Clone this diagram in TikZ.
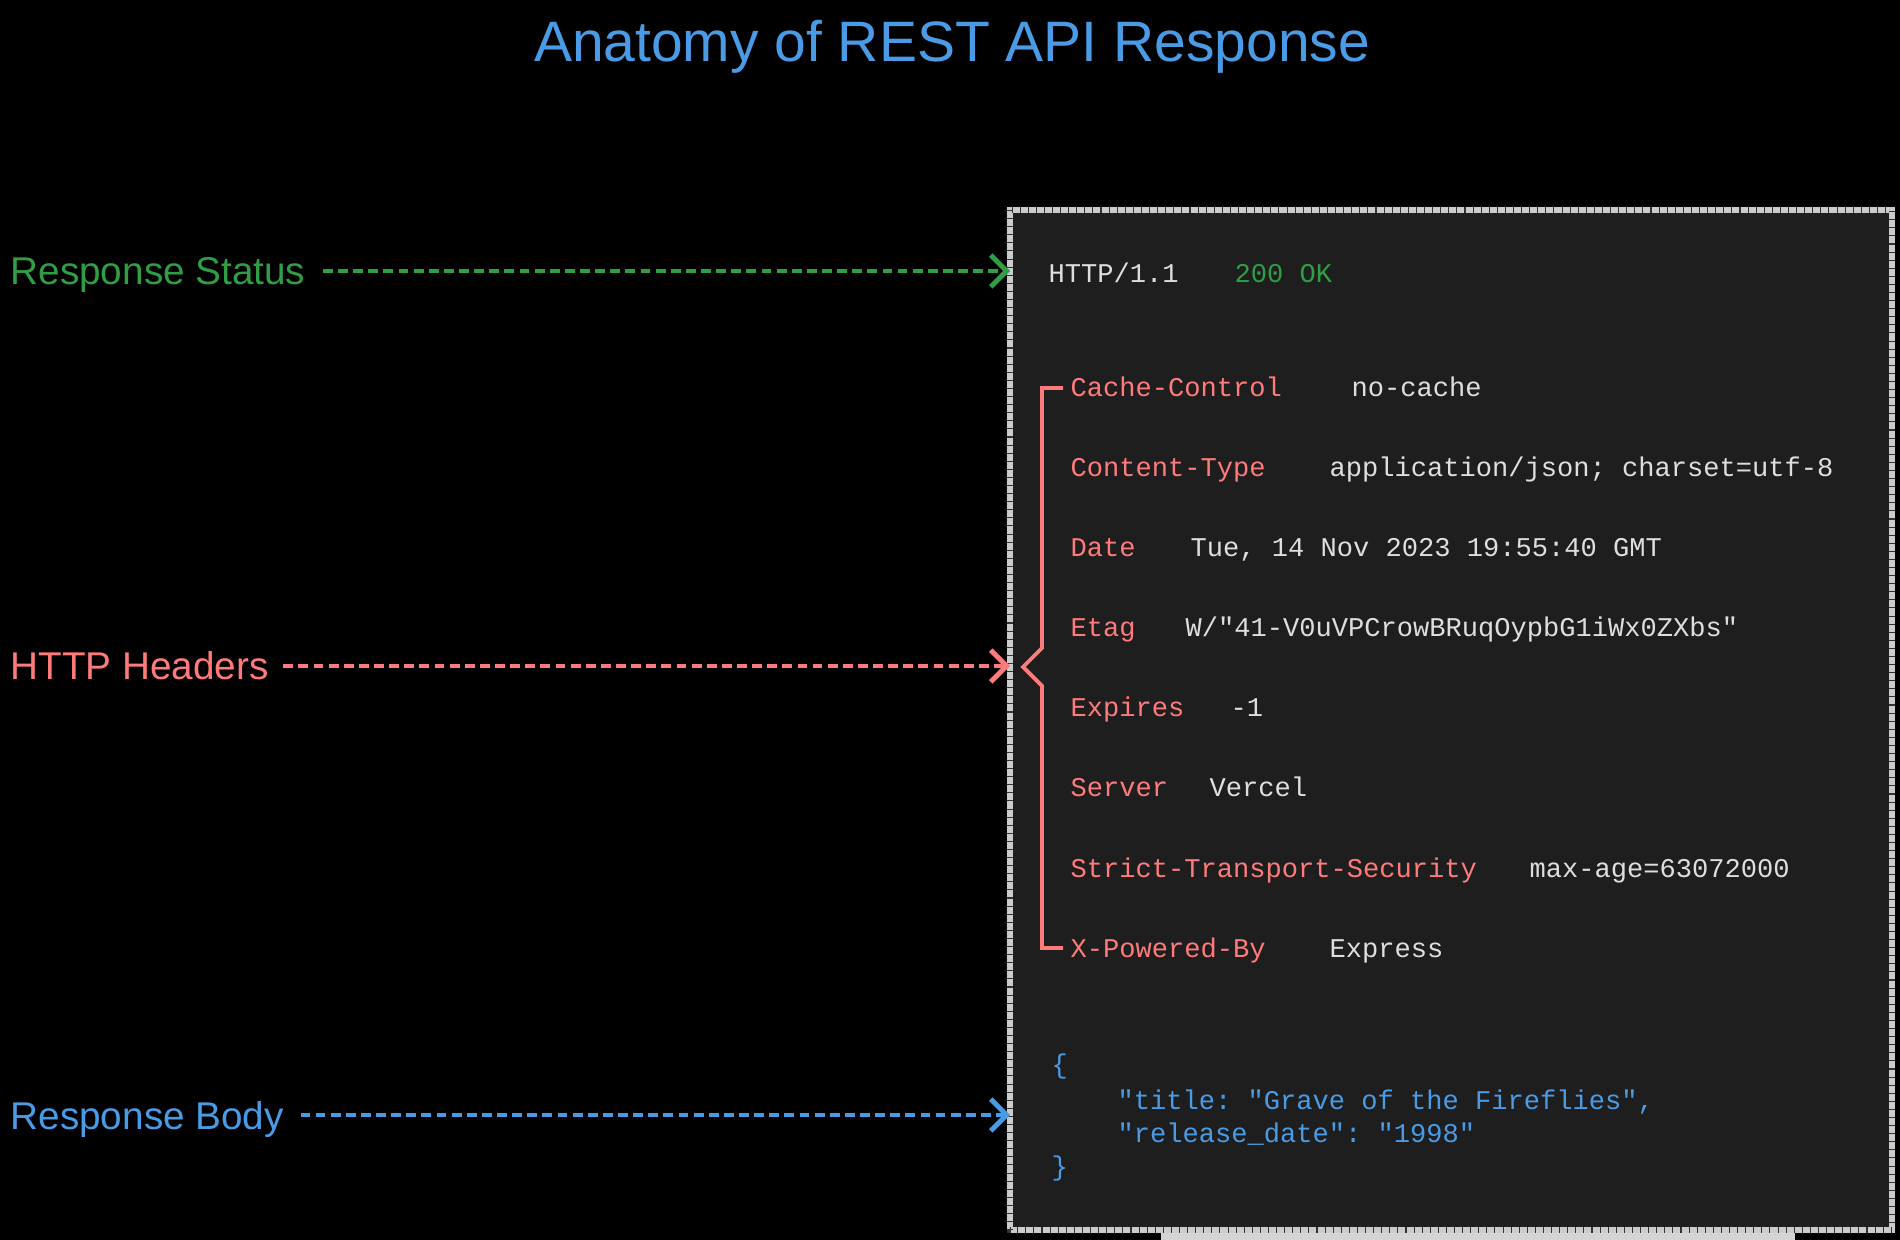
\documentclass[tikz,border=0pt]{standalone}
\usepackage{fontspec}
\setmainfont{Liberation Sans}
\setmonofont{Liberation Mono}
\usetikzlibrary{arrows.meta, positioning, calc}

\definecolor{apiblue}{HTML}{4A9BE6}
\definecolor{apigreen}{HTML}{2F9E44}
\definecolor{apired}{HTML}{FF7B7B}
\definecolor{codegray}{HTML}{DEDEDE}
\definecolor{panelfill}{HTML}{1E1E1E}
\definecolor{paneledge}{HTML}{CCCCCC}

\tikzset{
    pointer/.style={line width=1.1pt, dash pattern=on 2.8pt off 1.5pt,
        -{Straight Barb[length=4.5pt, width=9pt, line width=1.4pt]}},
    sidelabel/.style={anchor=base west, inner sep=0pt, font=\fontsize{11}{13}\selectfont},
    hkey/.style={anchor=base west, inner sep=0pt, text=apired, font=\ttfamily\fontsize{7.7}{9}\selectfont},
    hval/.style={anchor=base west, inner sep=0pt, text=codegray, font=\ttfamily\fontsize{7.7}{9}\selectfont},
    jsonline/.style={anchor=base west, inner sep=0pt, text=apiblue, font=\ttfamily\fontsize{7.7}{9}\selectfont},
}

\begin{document}
\begin{tikzpicture}[x=0.01cm, y=-0.01cm]
    % Canvas
    \useasboundingbox (0,0) rectangle (1900,1240);
    \fill[black] (0,0) rectangle (1900,1240);

    % Title
    \node[anchor=base, inner sep=0pt, text=apiblue, font=\fontsize{16.2}{19}\selectfont] (title) at (952,62) {Anatomy of REST API Response};

    % Response panel
    \fill[paneledge!85] (1161,1228) rectangle (1795,1240);
    \fill[panelfill] (1010,210) rectangle (1892,1230);
    \draw[paneledge, line width=1.8pt] (1010,210) rectangle (1892,1230);
    \draw[black!80, line width=1.8pt, dash pattern=on 0.3pt off 2pt] (1010,210) rectangle (1892,1230);
    \coordinate (statusto) at (1010,271);
    \coordinate (headersto) at (1010,666);
    \coordinate (bodyto) at (1010,1115);

    % Status line
    \node[hval] (proto) at (1048,283) {HTTP/1.1};
    \node[hval, text=apigreen] (code) at (1234,283) {200 OK};

    % Headers
    \node[hkey] (cachekey) at (1070,397) {Cache-Control};
    \node[hval] (cacheval) at (1351,397) {no-cache};
    \node[hkey] (typekey) at (1070,477) {Content-Type};
    \node[hval] (typeval) at (1329,477) {application/json; charset=utf-8};
    \node[hkey] (datekey) at (1070,557) {Date};
    \node[hval] (dateval) at (1190,557) {Tue, 14 Nov 2023 19:55:40 GMT};
    \node[hkey] (etagkey) at (1070,637) {Etag};
    \node[hval] (etagval) at (1185,637) {W/"41-V0uVPCrowBRuqOypbG1iWx0ZXbs"};
    \node[hkey] (expkey) at (1070,717) {Expires};
    \node[hval] (expval) at (1230,717) {-1};
    \node[hkey] (serverkey) at (1070,797) {Server};
    \node[hval] (serverval) at (1209,797) {Vercel};
    \node[hkey] (stskey) at (1070,877) {Strict-Transport-Security};
    \node[hval] (stsval) at (1529,877) {max-age=63072000};
    \node[hkey] (poweredkey) at (1070,957) {X-Powered-By};
    \node[hval] (poweredval) at (1329,957) {Express};

    % Brace round the headers
    \draw[apired, line width=1.1pt] (1063,388) -- (1042,388) -- (1042,648) -- (1023,667)
        -- (1042,686) -- (1042,948) -- (1063,948);

    % Body
    \node[jsonline] (open) at (1051,1073) {\{};
    \node[jsonline] (titleline) at (1117,1109) {"title: "Grave of the Fireflies",};
    \node[jsonline] (dateline) at (1117,1142) {"release\_date": "1998"};
    \node[jsonline] (close) at (1051,1175) {\}};

    % Side labels
    \node[sidelabel, text=apigreen] (status) at (10,285) {Response Status};
    \node[sidelabel, text=apired] (headers) at (10,680) {HTTP Headers};
    \node[sidelabel, text=apiblue] (body) at (10,1129) {Response Body};

    % Pointers
    \draw[pointer, apigreen] ($(status.east |- statusto)+(17,0)$) -- (statusto);
    \draw[pointer, apired] ($(headers.east |- headersto)+(14,0)$) -- (headersto);
    \draw[pointer, apiblue] ($(body.east |- bodyto)+(16,0)$) -- (bodyto);
\end{tikzpicture}
\end{document}
